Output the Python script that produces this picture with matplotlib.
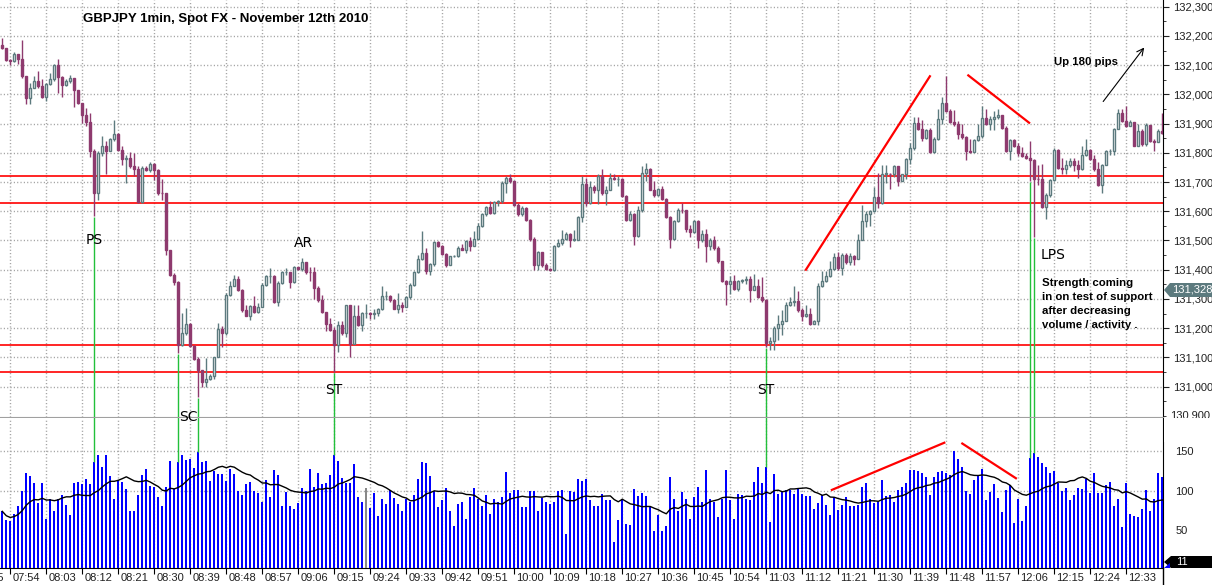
import numpy as np
import pandas as pd
import matplotlib
matplotlib.use("Agg")
import matplotlib.pyplot as plt
from matplotlib.patches import Polygon, Rectangle
from matplotlib.ticker import MultipleLocator, FixedLocator

# GBPJPY 1 min, prices in dealer format (132168 = 132.168)
start_time = "2010-11-12 07:52"
first_open = 132168

closes = [
    132160, 132118, 132114, 132137, 132122, 132063, 131989, 132023, 132046, 132029,
    131992, 132034, 132054, 132099, 132061, 132032, 132046, 132057, 132015, 131969,
    131931, 131905, 131806, 131663, 131800, 131823, 131806, 131846, 131863, 131809,
    131779, 131783, 131754, 131745, 131631, 131749, 131741, 131763, 131741, 131663,
    131661, 131466, 131383, 131358, 131141, 131183, 131215, 131139, 131094, 131057,
    131017, 131026, 131037, 131101, 131197, 131183, 131314, 131343, 131368, 131329,
    131261, 131242, 131277, 131257, 131272, 131349, 131379, 131379, 131288, 131354,
    131392, 131392, 131358, 131408, 131402, 131425, 131392, 131391, 131337, 131297,
    131257, 131215, 131194, 131143, 131211, 131183, 131278, 131146, 131242, 131211,
    131251, 131251, 131249, 131251, 131265, 131309, 131309, 131295, 131266, 131280,
    131272, 131305, 131349, 131391, 131437, 131457, 131394, 131421, 131494, 131480,
    131455, 131417, 131446, 131448, 131474, 131469, 131497, 131480, 131505, 131549,
    131589, 131615, 131594, 131631, 131634, 131697, 131714, 131703, 131623, 131589,
    131611, 131569, 131505, 131417, 131459, 131417, 131402, 131398, 131482, 131491,
    131505, 131523, 131503, 131503, 131581, 131695, 131629, 131683, 131672, 131722,
    131663, 131674, 131714, 131709, 131711, 131651, 131571, 131592, 131517, 131603,
    131731, 131745, 131674, 131654, 131677, 131642, 131581, 131505, 131566, 131606,
    131603, 131539, 131528, 131566, 131501, 131523, 131482, 131501, 131474, 131429,
    131360, 131352, 131360, 131334, 131360, 131366, 131368, 131329, 131345, 131306,
    131295, 131149, 131157, 131200, 131215, 131225, 131280, 131288, 131294, 131261,
    131243, 131249, 131215, 131225, 131345, 131360, 131379, 131402, 131443, 131406,
    131451, 131425, 131448, 131437, 131503, 131568, 131592, 131600, 131649, 131629,
    131729, 131729, 131726, 131754, 131703, 131726, 131779, 131817, 131903, 131880,
    131851, 131878, 131802, 131848, 131917, 131971, 131943, 131905, 131897, 131866,
    131855, 131806, 131802, 131843, 131859, 131920, 131897, 131917, 131923, 131928,
    131886, 131806, 131843, 131825, 131798, 131789, 131783, 131777, 131711, 131709,
    131615, 131657, 131706, 131809, 131749, 131743, 131757, 131771, 131757, 131745,
    131791, 131811, 131779, 131743, 131691, 131760, 131806, 131806, 131882, 131935,
    131909, 131891, 131905, 131825, 131874, 131829, 131894, 131840, 131837, 131874,
    131869,
]

highs = [
    132194, 132160, 132122, 132145, 132129, 132185, 132057, 132040, 132063, 132080,
    132051, 132040, 132074, 132103, 132120, 132063, 132051, 132065, 132051, 131997,
    131971, 131954, 131935, 131814, 131806, 131857, 131840, 131851, 131914, 131869,
    131823, 131794, 131802, 131800, 131754, 131754, 131754, 131768, 131766, 131745,
    131709, 131663, 131469, 131389, 131360, 131251, 131269, 131217, 131143, 131103,
    131057, 131097, 131043, 131103, 131217, 131206, 131320, 131360, 131383, 131377,
    131334, 131280, 131280, 131309, 131286, 131354, 131383, 131406, 131383, 131360,
    131394, 131406, 131389, 131414, 131411, 131440, 131411, 131411, 131411, 131343,
    131314, 131257, 131234, 131203, 131225, 131223, 131280, 131280, 131280, 131280,
    131254, 131282, 131254, 131265, 131269, 131343, 131326, 131314, 131299, 131320,
    131291, 131309, 131354, 131394, 131451, 131531, 131474, 131423, 131497, 131497,
    131486, 131457, 131448, 131451, 131480, 131489, 131503, 131512, 131531, 131560,
    131594, 131619, 131634, 131634, 131640, 131703, 131720, 131726, 131703, 131629,
    131617, 131615, 131574, 131512, 131463, 131459, 131423, 131406, 131486, 131505,
    131537, 131528, 131526, 131535, 131585, 131720, 131714, 131703, 131691, 131726,
    131743, 131686, 131731, 131726, 131720, 131714, 131657, 131600, 131594, 131617,
    131754, 131766, 131749, 131703, 131680, 131686, 131646, 131583, 131571, 131611,
    131629, 131606, 131554, 131571, 131571, 131537, 131539, 131509, 131514, 131482,
    131429, 131366, 131379, 131383, 131366, 131368, 131379, 131379, 131385, 131368,
    131375, 131299, 131171, 131206, 131246, 131263, 131288, 131306, 131343, 131326,
    131269, 131278, 131269, 131229, 131354, 131394, 131394, 131429, 131457, 131459,
    131457, 131457, 131457, 131451, 131523, 131623, 131600, 131606, 131683, 131731,
    131760, 131757, 131731, 131760, 131754, 131729, 131783, 131834, 131923, 131923,
    131914, 131882, 131886, 131855, 131949, 131992, 132063, 131949, 131946, 131909,
    131897, 131857, 131846, 131848, 131897, 131960, 131949, 131926, 131943, 131949,
    131923, 131891, 131848, 131848, 131832, 131821, 131800, 131840, 131779, 131757,
    131763, 131663, 131711, 131817, 131814, 131783, 131777, 131783, 131783, 131777,
    131825, 131846, 131814, 131794, 131768, 131763, 131811, 131814, 131886, 131949,
    131949, 131960, 131914, 131871, 131897, 131880, 131901, 131886, 131846, 131880,
    131937,
]

lows = [
    132157, 132114, 132101, 132111, 132103, 132057, 131968, 131968, 132029, 132023,
    131989, 131979, 132031, 132046, 132006, 131991, 132029, 132040, 131958, 131966,
    131901, 131891, 131786, 131585, 131640, 131788, 131726, 131817, 131840, 131806,
    131760, 131697, 131749, 131720, 131629, 131629, 131737, 131734, 131706, 131657,
    131640, 131451, 131379, 131349, 131114, 131139, 131177, 131135, 131091, 130966,
    131000, 131000, 131023, 131025, 131105, 131137, 131177, 131311, 131354, 131326,
    131257, 131240, 131229, 131251, 131251, 131272, 131345, 131354, 131286, 131277,
    131352, 131383, 131337, 131354, 131400, 131394, 131386, 131360, 131299, 131291,
    131251, 131189, 131189, 131051, 131120, 131177, 131171, 131103, 131162, 131209,
    131189, 131234, 131231, 131232, 131242, 131263, 131297, 131291, 131265, 131251,
    131257, 131288, 131299, 131345, 131389, 131432, 131386, 131383, 131414, 131478,
    131451, 131411, 131417, 131443, 131443, 131466, 131457, 131463, 131486, 131505,
    131546, 131585, 131592, 131589, 131617, 131629, 131661, 131697, 131619, 131585,
    131585, 131566, 131497, 131400, 131398, 131411, 131398, 131394, 131394, 131478,
    131486, 131503, 131478, 131497, 131517, 131562, 131619, 131626, 131661, 131626,
    131657, 131623, 131677, 131706, 131686, 131649, 131566, 131566, 131486, 131512,
    131597, 131703, 131672, 131649, 131651, 131638, 131577, 131474, 131503, 131562,
    131594, 131528, 131512, 131526, 131474, 131494, 131425, 131469, 131469, 131423,
    131357, 131278, 131318, 131329, 131326, 131354, 131352, 131291, 131329, 131303,
    131291, 131137, 131126, 131126, 131158, 131177, 131225, 131277, 131277, 131257,
    131223, 131238, 131211, 131215, 131211, 131341, 131357, 131375, 131398, 131400,
    131383, 131421, 131417, 131417, 131446, 131501, 131546, 131549, 131597, 131611,
    131626, 131697, 131677, 131718, 131688, 131706, 131709, 131763, 131811, 131878,
    131840, 131846, 131798, 131800, 131843, 131897, 131939, 131903, 131891, 131848,
    131846, 131775, 131798, 131802, 131840, 131851, 131894, 131878, 131878, 131917,
    131880, 131802, 131777, 131821, 131789, 131786, 131779, 131703, 131512, 131691,
    131611, 131574, 131649, 131703, 131743, 131726, 131726, 131752, 131737, 131714,
    131741, 131789, 131777, 131737, 131688, 131663, 131757, 131791, 131791, 131880,
    131905, 131889, 131891, 131823, 131823, 131825, 131825, 131837, 131806, 131840,
    131866,
]

volumes = [
    74, 63, 62, 71, 81, 99, 122, 118, 109, 85,
    110, 64, 90, 75, 90, 95, 82, 70, 110, 111,
    108, 115, 108, 136, 145, 130, 145, 118, 90, 113,
    111, 102, 74, 75, 95, 119, 127, 106, 104, 92,
    81, 105, 137, 102, 136, 145, 138, 140, 128, 149,
    136, 137, 112, 124, 121, 121, 112, 127, 121, 99,
    95, 108, 111, 99, 97, 86, 113, 92, 126, 120,
    81, 98, 81, 77, 85, 103, 99, 127, 105, 122,
    108, 110, 119, 145, 137, 116, 110, 110, 133, 92,
    86, 103, 78, 97, 68, 90, 83, 101, 91, 83,
    74, 90, 86, 95, 115, 136, 134, 118, 100, 80,
    88, 103, 74, 56, 83, 86, 64, 92, 103, 90,
    81, 95, 71, 90, 86, 92, 123, 97, 101, 101,
    79, 80, 99, 100, 75, 91, 86, 83, 86, 100,
    101, 45, 99, 98, 115, 112, 115, 88, 81, 81,
    96, 88, 88, 35, 63, 90, 58, 57, 102, 93,
    97, 93, 80, 50, 70, 49, 56, 117, 90, 75,
    98, 89, 65, 92, 105, 86, 126, 90, 86, 67,
    90, 126, 88, 65, 96, 95, 90, 88, 111, 130,
    110, 130, 61, 121, 96, 99, 101, 101, 96, 103,
    96, 93, 93, 77, 85, 95, 82, 70, 92, 76,
    82, 92, 81, 81, 82, 104, 110, 90, 84, 86,
    113, 93, 95, 86, 101, 105, 110, 126, 126, 125,
    122, 117, 95, 117, 123, 124, 122, 119, 150, 140,
    129, 100, 96, 113, 120, 127, 88, 98, 108, 91,
    73, 101, 107, 60, 90, 62, 81, 141, 147, 142,
    134, 129, 122, 125, 110, 99, 103, 88, 95, 103,
    102, 115, 97, 122, 97, 97, 107, 111, 81, 90,
    55, 110, 71, 68, 67, 77, 101, 75, 90, 122,
    117,
]
gray_volume_bars = [91]

support_levels = [131.720, 131.629, 131.143, 131.050]
# bars where the green line links the price low to the volume spike
climax_bars = [23, 44, 49, 83, 191, 257, 258]
current_price_tag = "131,328"
current_volume_tag = "11"

W, H = 1212, 585
PLOT_R = 1163  # px, right axis line


def fx(px):
    return px / W


def fy(py):
    return 1 - py / H


n = len(closes)
x = np.arange(n)
c = np.array(closes) / 1000
o = np.r_[first_open, closes[:-1]] / 1000
h = np.maximum(np.array(highs) / 1000, np.maximum(o, c))
l = np.minimum(np.array(lows) / 1000, np.minimum(o, c))
vol = np.array(volumes, dtype=float)
times = pd.date_range(start_time, periods=n, freq="min")

bull_col = "#5c7a7e"
bear_col = "#8e3a6e"
grid_col = "#a0a0a0"
txt_font = "Liberation Sans"

fig = plt.figure(figsize=(W / 100, H / 100), dpi=100)
ax = fig.add_axes([0, fy(417), fx(PLOT_R), 417 / H])
axv = fig.add_axes([0, fy(568), fx(PLOT_R), 150 / H])

xlim = (-2.3 / 4, (PLOT_R - 2.3) / 4)
tick_bars = [i for i in range(-7, n - 4, 9)]

# ---------------- price panel ----------------
up = c >= o
dn = ~up
ax.vlines(x[up], l[up], h[up], color=bull_col, lw=1, zorder=3)
ax.vlines(x[dn], l[dn], h[dn], color=bear_col, lw=1, zorder=3)
body = np.maximum(np.abs(c - o), 0.0012)
ax.bar(x[up], body[up], bottom=o[up], width=0.5, facecolor="white",
       edgecolor=bull_col, lw=1, zorder=4)
ax.bar(x[dn], body[dn], bottom=c[dn], width=0.5, facecolor=bear_col,
       edgecolor=bear_col, lw=1, zorder=4)

for lev in support_levels:
    ax.axhline(lev, color="#ff0000", lw=1.2, zorder=2)

ax.set_xlim(*xlim)
ax.set_ylim(130.896, 132.323)
ax.xaxis.set_major_locator(FixedLocator(tick_bars))
ax.tick_params(axis="x", length=0, labelbottom=False)
ax.grid(True, which="major", color=grid_col, lw=1, ls=(0, (0.8, 1.6)), zorder=0)

ax.yaxis.tick_right()
price_ticks = np.round(np.arange(131.0, 132.31, 0.1), 1)
ax.set_yticks(price_ticks)
ax.set_yticklabels([f"{p:.3f}".replace(".", ",") for p in price_ticks],
                   fontsize=8, family=txt_font, color="#202020")
ax.yaxis.set_minor_locator(MultipleLocator(0.05))
ax.tick_params(axis="y", which="major", length=4, pad=3, color="#202020")
ax.tick_params(axis="y", which="minor", length=2, color="#202020")
for s in ("top", "left"):
    ax.spines[s].set_visible(False)
ax.spines["right"].set_color("black")
ax.spines["bottom"].set_color(grid_col)

# annotations on price panel
ax.plot([200.9, 231.9], [131.400, 132.062], color="#ff0000", lw=1.6, zorder=5)
ax.plot([241.5, 256.7], [132.065, 131.903], color="#ff0000", lw=1.6, zorder=5)
ax.annotate("", xy=(285.9, 132.168), xytext=(274.8, 131.968),
            arrowprops=dict(arrowstyle="->", color="black", lw=0.8,
                            mutation_scale=12), zorder=5)

green = "#22c03a"
for b in climax_bars:
    ax.vlines(b, 130.8, l[b] - 0.004, color=green, lw=1, zorder=5)
    axv.vlines(b, vol[b], 300, color=green, lw=1, zorder=5)

# ---------------- volume panel ----------------
vcols = ["#888888" if i in gray_volume_bars else "#0000ff" for i in range(n)]
axv.bar(x, vol, width=0.55, color=vcols, zorder=3)
ma = pd.Series(vol).rolling(14, min_periods=1).mean()
axv.plot(x, ma, color="black", lw=1, zorder=4)
axv.plot([207.4, 235.5], [100.9, 160.0], color="#ff0000", lw=1.6, zorder=5)
axv.plot([240.0, 253.4], [159.0, 115.5], color="#ff0000", lw=1.6, zorder=5)

axv.set_xlim(*xlim)
axv.set_ylim(3, 191)
axv.xaxis.set_major_locator(FixedLocator(tick_bars))
axv.tick_params(axis="x", length=4, color="black", labelbottom=False)
axv.grid(True, axis="x", color=grid_col, lw=1, ls=(0, (0.8, 1.6)), zorder=0)
for lev in (100, 150):
    axv.axhline(lev, color=grid_col, lw=1, ls=(0, (0.8, 1.6)), zorder=0)
axv.yaxis.tick_right()
axv.set_yticks([50, 100, 150])
axv.set_yticklabels(["50", "100", "150"], fontsize=8, family=txt_font,
                    color="#202020")
axv.tick_params(axis="y", length=0, pad=9)
for s in ("top", "left"):
    axv.spines[s].set_visible(False)

for b in tick_bars:
    t = times[0] + pd.Timedelta(minutes=int(b))
    axv.text(b + 0.55, -0.067, t.strftime("%H:%M"), transform=axv.get_xaxis_transform(),
             ha="left", va="center", fontsize=8, family=txt_font, color="#202020",
             clip_on=False)

# right axis line running down to the bottom edge
fig.add_artist(plt.Line2D([fx(PLOT_R), fx(PLOT_R)], [0, fy(568)], color="black", lw=1))

# 130,900 label, lower half hidden under the volume panel
fig.text(fx(1170), fy(416), "130,900", ha="left", va="center", fontsize=8,
         family=txt_font, color="#202020", zorder=3)
fig.add_artist(Rectangle((fx(PLOT_R + 1), fy(442)), fx(W - PLOT_R), (442 - 417.5) / H,
                         transform=fig.transFigure, facecolor="white",
                         edgecolor="none", zorder=4))

# price tag
tag = Polygon([[fx(1164), fy(290)], [fx(1170), fy(283)], [fx(1212), fy(283)],
               [fx(1212), fy(297)], [fx(1170), fy(297)]], closed=True,
              transform=fig.transFigure, facecolor=bull_col, edgecolor="none", zorder=5)
fig.add_artist(tag)
fig.text(fx(1172), fy(290), current_price_tag, ha="left", va="center", fontsize=8,
         family=txt_font, color="white", zorder=6)

# volume tag
vtag = Polygon([[fx(1164), fy(562)], [fx(1171), fy(556)], [fx(1212), fy(556)],
                [fx(1212), fy(568)], [fx(1171), fy(568)]], closed=True,
               transform=fig.transFigure, facecolor="black", edgecolor="none", zorder=5)
fig.add_artist(vtag)
fig.add_artist(Polygon([[fx(1164), fy(568)], [fx(1170), fy(563)], [fx(1170), fy(568)]],
                       closed=True, transform=fig.transFigure, facecolor="#0000ff",
                       edgecolor="none", zorder=6))
fig.text(fx(1176), fy(562), current_volume_tag, ha="left", va="center", fontsize=8,
         family=txt_font, color="white", zorder=6)

# texts
fig.text(fx(83), fy(19), "GBPJPY 1min, Spot FX - November 12th 2010", ha="left",
         va="center", fontsize=9.5, family=txt_font, weight="bold")
for label, px, py in [("PS", 94, 240), ("SC", 188, 417), ("AR", 303, 243),
                      ("ST", 334, 390), ("ST", 766, 390), ("LPS", 1053, 255)]:
    fig.text(fx(px), fy(py), label, ha="center", va="center", fontsize=10,
             family="DejaVu Sans", color="black")
fig.text(fx(1054), fy(62), "Up 180 pips", ha="left", va="center", fontsize=8.2,
         family=txt_font, weight="bold")
for k, line in enumerate(["Strength coming", "in on test of support",
                          "after decreasing", "volume / activity ."]):
    fig.text(fx(1042), fy(283 + 14 * k), line, ha="left", va="center", fontsize=8.2,
             family=txt_font, weight="bold")

fig.savefig("out.png", dpi=100)
